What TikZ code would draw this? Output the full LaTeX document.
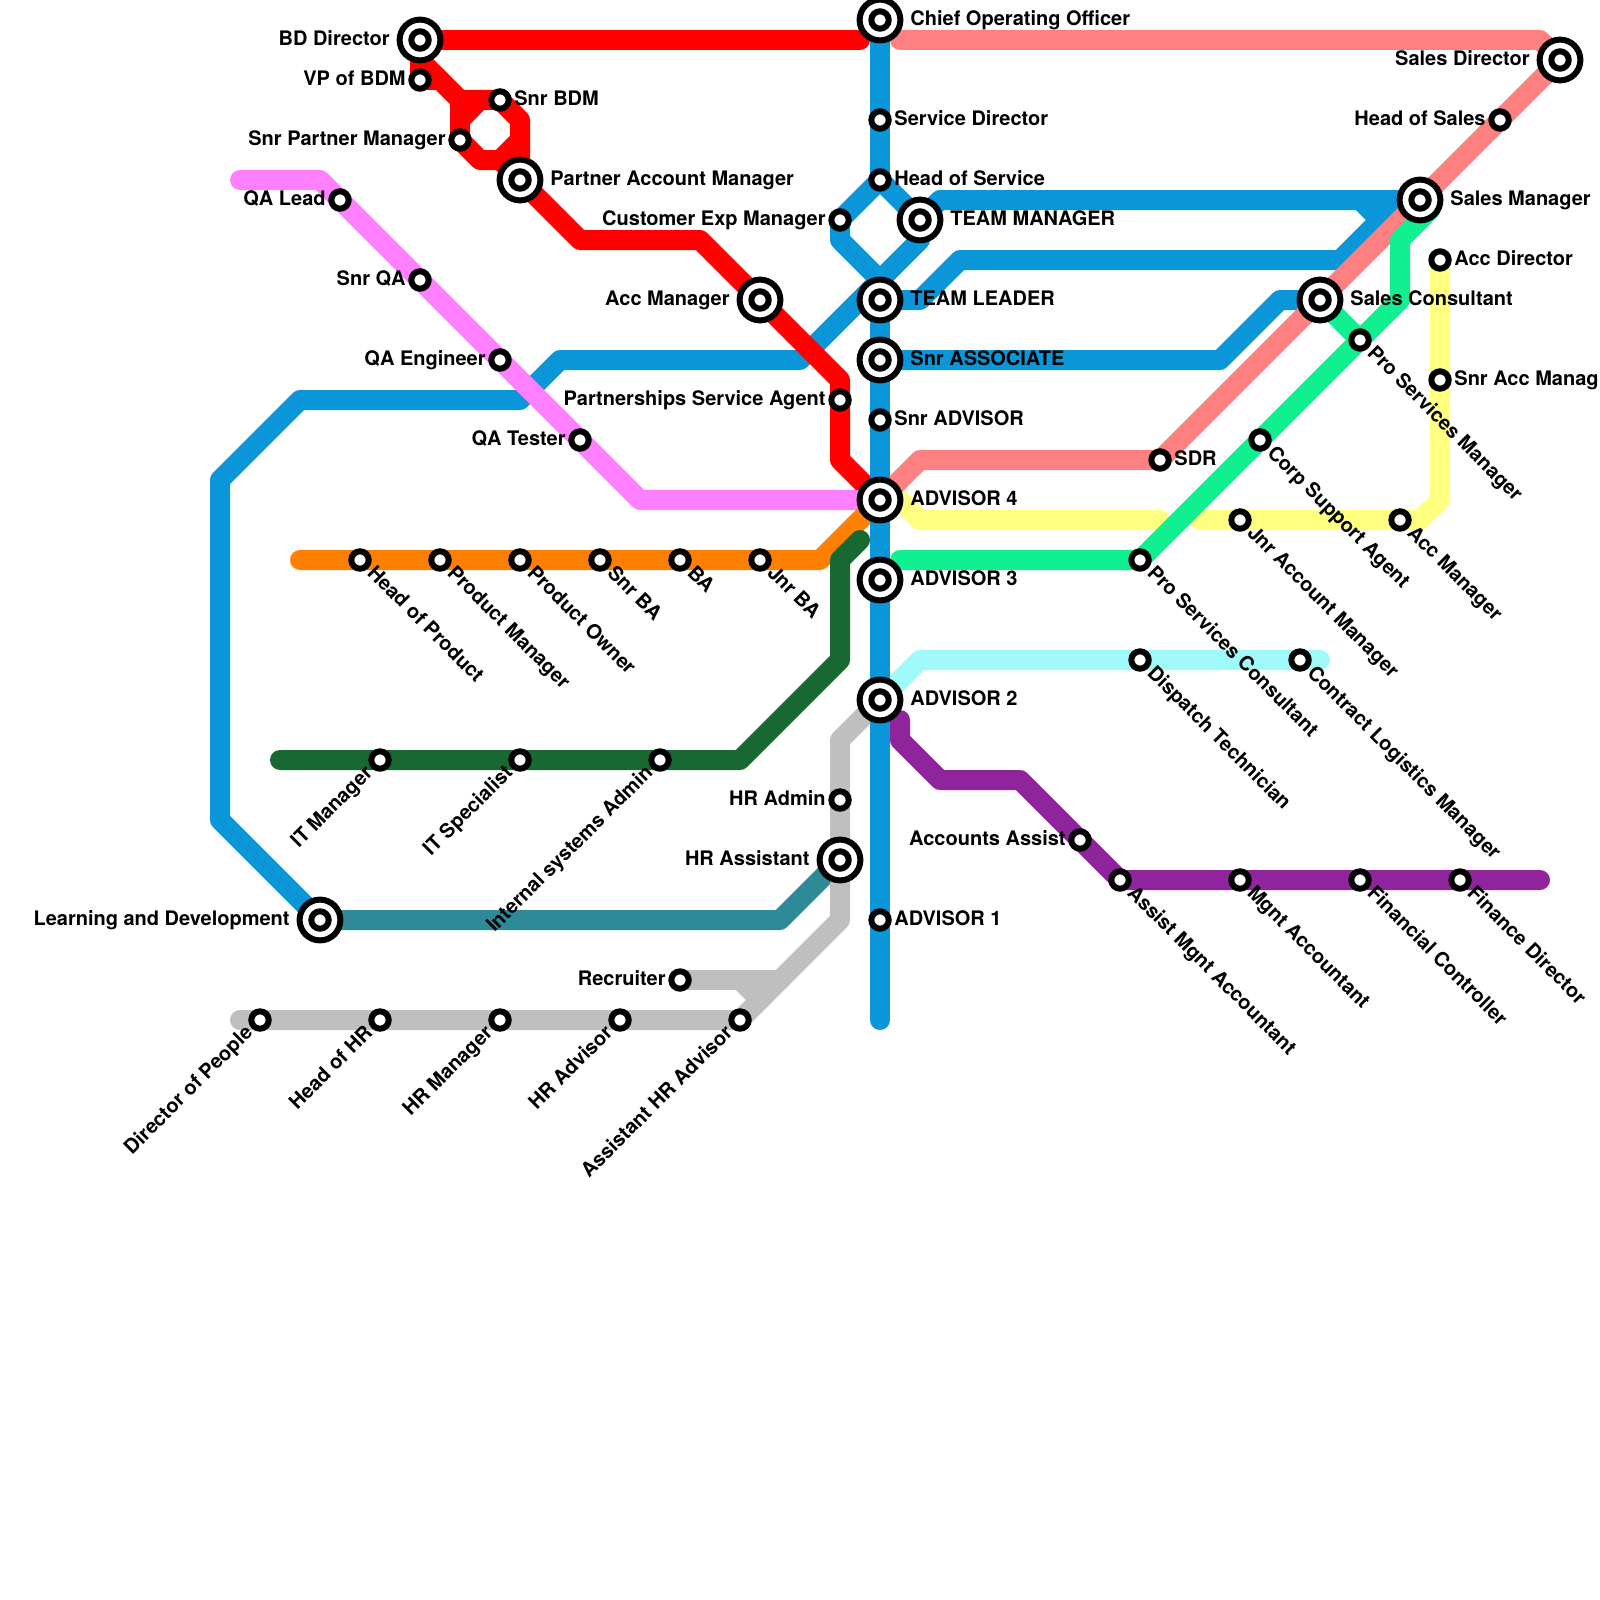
\documentclass[tikz,border=0pt]{standalone}
\usepackage{fontspec}
\setmainfont{TeX Gyre Heros}
\usepackage{xcolor}
\usetikzlibrary{backgrounds}
\definecolor{tubeblue}{HTML}{0A96D8}
\definecolor{tubered}{HTML}{FF0000}
\definecolor{tubesalmon}{HTML}{FF8080}
\definecolor{tubepink}{HTML}{FF80FF}
\definecolor{tubeorange}{HTML}{FF8000}
\definecolor{tubeforest}{HTML}{186832}
\definecolor{tubegreen}{HTML}{10F090}
\definecolor{tubeyellow}{HTML}{FFFF80}
\definecolor{tubecyan}{HTML}{A0FAFA}
\definecolor{tubepurple}{HTML}{90249C}
\definecolor{tubeteal}{HTML}{2E8A96}
\definecolor{tubegrey}{HTML}{BFBFBF}
\tikzset{
  tube/.style={line width=10pt, line cap=round, line join=round},
  stn/.style={circle, draw=black, fill=white, line width=3pt, inner sep=0pt, minimum size=8.7pt},
  hub/.style={stn, minimum size=20.4pt, path picture={\draw[line width=3pt] (path picture bounding box.center) circle (4.35pt);}},
  lab/.style={font=\bfseries\fontsize{10}{12}\selectfont, inner sep=0pt, text=black},
  rlab/.style={lab, anchor=base west, xshift=7pt, yshift=-2.7pt},
  llab/.style={lab, anchor=base east, xshift=-7pt, yshift=-2.7pt},
  hrlab/.style={lab, anchor=base west, xshift=15pt, yshift=-2.7pt},
  hllab/.style={lab, anchor=base east, xshift=-15pt, yshift=-2.7pt},
  dlab/.style={lab, rotate=-45, anchor=base west, xshift=7pt, yshift=-2.7pt},
  ulab/.style={lab, rotate=45, anchor=base east, xshift=-7pt, yshift=-2.7pt}
}
\begin{document}
\begin{tikzpicture}[x=0.5pt,y=-0.5pt]
  \useasboundingbox (0,0) rectangle (1600,1600);

  % centre line
  \node[hub] (coo) at (880,20) {};
  \node[stn] (svcdir) at (880,120) {};
  \node[stn] (hos) at (880,180) {};
  \node[stn] (custexp) at (840,220) {};
  \node[hub] (teammgr) at (920,220) {};
  \node[hub] (teamlead) at (880,300) {};
  \node[hub] (snrassoc) at (880,360) {};
  \node[stn] (snradv) at (880,420) {};
  \node[hub] (adv4) at (880,500) {};
  \node[hub] (adv3) at (880,580) {};
  \node[hub] (adv2) at (880,700) {};
  \node[stn] (adv1) at (880,920) {};
  \node[hrlab] (coot) at (coo) {Chief Operating Officer};
  \node[rlab] (svcdirt) at (svcdir) {Service Director};
  \node[rlab] (host) at (hos) {Head of Service};
  \node[llab] (custexpt) at (custexp) {Customer Exp Manager};
  \node[hrlab] (teammgrt) at (teammgr) {TEAM MANAGER};
  \node[hrlab] (teamleadt) at (teamlead) {TEAM LEADER};
  \node[hrlab] (snrassoct) at (snrassoc) {Snr ASSOCIATE};
  \node[rlab] (snradvt) at (snradv) {Snr ADVISOR};
  \node[hrlab] (adv4t) at (adv4) {ADVISOR 4};
  \node[hrlab] (adv3t) at (adv3) {ADVISOR 3};
  \node[hrlab] (adv2t) at (adv2) {ADVISOR 2};
  \node[rlab] (adv1t) at (adv1) {ADVISOR 1};

  % business development
  \node[hub] (bddir) at (420,40) {};
  \node[stn] (vpbdm) at (420,80) {};
  \node[stn] (snrbdm) at (500,100) {};
  \node[stn] (snrpart) at (460,140) {};
  \node[hub] (partacc) at (520,180) {};
  \node[hub] (accmgr) at (760,300) {};
  \node[stn] (partserv) at (840,400) {};
  \node[hllab] (bddirt) at (bddir) {BD Director};
  \node[llab] (vpbdmt) at (vpbdm) {VP of BDM};
  \node[rlab] (snrbdmt) at (snrbdm) {Snr BDM};
  \node[llab] (snrpartt) at (snrpart) {Snr Partner Manager};
  \node[hrlab] (partacct) at (partacc) {Partner Account Manager};
  \node[hllab] (accmgrt) at (accmgr) {Acc Manager};
  \node[llab] (partservt) at (partserv) {Partnerships Service Agent};

  % quality
  \node[stn] (qalead) at (340,200) {};
  \node[stn] (snrqa) at (420,280) {};
  \node[stn] (qaeng) at (500,360) {};
  \node[stn] (qatest) at (580,440) {};
  \node[llab] (qaleadt) at (qalead) {QA Lead};
  \node[llab] (snrqat) at (snrqa) {Snr QA};
  \node[llab] (qaengt) at (qaeng) {QA Engineer};
  \node[llab] (qatestt) at (qatest) {QA Tester};

  % product
  \node[stn] (headprod) at (360,560) {};
  \node[stn] (prodmgr) at (440,560) {};
  \node[stn] (prodown) at (520,560) {};
  \node[stn] (snrba) at (600,560) {};
  \node[stn] (ba) at (680,560) {};
  \node[stn] (jnrba) at (760,560) {};
  \node[dlab] (headprodt) at (headprod) {Head of Product};
  \node[dlab] (prodmgrt) at (prodmgr) {Product Manager};
  \node[dlab] (prodownt) at (prodown) {Product Owner};
  \node[dlab] (snrbat) at (snrba) {Snr BA};
  \node[dlab] (bat) at (ba) {BA};
  \node[dlab] (jnrbat) at (jnrba) {Jnr BA};

  % IT
  \node[stn] (itmgr) at (380,760) {};
  \node[stn] (itspec) at (520,760) {};
  \node[stn] (itadmin) at (660,760) {};
  \node[ulab] (itmgrt) at (itmgr) {IT Manager};
  \node[ulab] (itspect) at (itspec) {IT Specialist};
  \node[ulab] (itadmint) at (itadmin) {Internal systems Admin};

  % people
  \node[hub] (learn) at (320,920) {};
  \node[stn] (hradmin) at (840,800) {};
  \node[hub] (hrasst) at (840,860) {};
  \node[stn] (recruit) at (680,980) {};
  \node[stn] (dirpeople) at (260,1020) {};
  \node[stn] (headhr) at (380,1020) {};
  \node[stn] (hrmgr) at (500,1020) {};
  \node[stn] (hradv) at (620,1020) {};
  \node[stn] (asshr) at (740,1020) {};
  \node[hllab] (learnt) at (learn) {Learning and Development};
  \node[llab] (hradmint) at (hradmin) {HR Admin};
  \node[hllab] (hrasstt) at (hrasst) {HR Assistant};
  \node[llab] (recruitt) at (recruit) {Recruiter};
  \node[ulab] (dirpeoplet) at (dirpeople) {Director of People};
  \node[ulab] (headhrt) at (headhr) {Head of HR};
  \node[ulab] (hrmgrt) at (hrmgr) {HR Manager};
  \node[ulab] (hradvt) at (hradv) {HR Advisor};
  \node[ulab] (asshrt) at (asshr) {Assistant HR Advisor};

  % sales
  \node[hub] (salesdir) at (1560,60) {};
  \node[stn] (headsales) at (1500,120) {};
  \node[hub] (salesmgr) at (1420,200) {};
  \node[hub] (salescon) at (1320,300) {};
  \node[stn] (sdr) at (1160,460) {};
  \node[hllab] (salesdirt) at (salesdir) {Sales Director};
  \node[llab] (headsalest) at (headsales) {Head of Sales};
  \node[hrlab] (salesmgrt) at (salesmgr) {Sales Manager};
  \node[hrlab] (salescont) at (salescon) {Sales Consultant};
  \node[rlab] (sdrt) at (sdr) {SDR};

  % pro services
  \node[stn] (promgr) at (1360,340) {};
  \node[stn] (corpsup) at (1260,440) {};
  \node[stn] (procon) at (1140,560) {};
  \node[dlab] (promgrt) at (promgr) {Pro Services Manager};
  \node[dlab] (corpsupt) at (corpsup) {Corp Support Agent};
  \node[dlab] (procont) at (procon) {Pro Services Consultant};

  % accounts
  \node[stn] (accdir) at (1440,260) {};
  \node[stn] (snracc) at (1440,380) {};
  \node[stn] (accmgrb) at (1400,520) {};
  \node[stn] (jnracc) at (1240,520) {};
  \node[rlab] (accdirt) at (accdir) {Acc Director};
  \node[rlab] (snracct) at (snracc) {Snr Acc Manag};
  \node[dlab] (accmgrbt) at (accmgrb) {Acc Manager};
  \node[dlab] (jnracct) at (jnracc) {Jnr Account Manager};

  % logistics
  \node[stn] (dispatch) at (1140,660) {};
  \node[stn] (contract) at (1300,660) {};
  \node[dlab] (dispatcht) at (dispatch) {Dispatch Technician};
  \node[dlab] (contractt) at (contract) {Contract Logistics Manager};

  % finance
  \node[stn] (acasst) at (1080,840) {};
  \node[stn] (asmgnt) at (1120,880) {};
  \node[stn] (mgnt) at (1240,880) {};
  \node[stn] (fincon) at (1360,880) {};
  \node[stn] (findir) at (1460,880) {};
  \node[llab] (acasstt) at (acasst) {Accounts Assist};
  \node[dlab] (asmgntt) at (asmgnt) {Assist Mgnt Accountant};
  \node[dlab] (mgntt) at (mgnt) {Mgnt Accountant};
  \node[dlab] (fincont) at (fincon) {Financial Controller};
  \node[dlab] (findirt) at (findir) {Finance Director};

  % free ends
  \coordinate (redend) at (860,40);
  \coordinate (salmonend) at (900,40);
  \coordinate (pinkend) at (240,180);
  \coordinate (orangeend) at (300,560);
  \coordinate (forestend) at (280,760);
  \coordinate (foresttop) at (860,540);
  \coordinate (yellowa) at (1160,520);
  \coordinate (yellowb) at (1200,520);
  \coordinate (greenend) at (900,560);
  \coordinate (greentop) at (1430,210);
  \coordinate (cyanend) at (1320,660);
  \coordinate (greyend) at (240,1020);
  \coordinate (purpletop) at (900,720);
  \coordinate (purpleend) at (1540,880);
  \coordinate (blueend) at (880,1020);
  \coordinate (bluea) at (1360,200);
  \coordinate (blueb) at (1380,220);
  \coordinate (bluec) at (880,280);
  \coordinate (redc) at (460,120);
  \coordinate (redd) at (480,100);
  \coordinate (greya) at (740,980);
  \coordinate (greyb) at (760,1000);

  \begin{scope}[on background layer]
    % branches of the blue line
    \draw[tube,tubeblue] (learn.center) -- (220,820) -- (220,480) -- (300,400) -- (520,400) -- (560,360) -- (800,360) -- (920,240) -- (teammgr.center);
    \draw[tube,tubeblue] (hos.center) -- (custexp.center) -- (840,240) -- (bluec);
    \draw[tube,tubeblue] (hos.center) -- (teammgr.center) -- (940,200) -- (salesmgr.center);
    \draw[tube,tubeblue] (teamlead.center) -- (920,300) -- (960,260) -- (1340,260) -- (1400,200);
    \draw[tube,tubeblue] (bluea) -- (blueb);
    \draw[tube,tubeblue] (snrassoc.center) -- (1220,360) -- (1280,300) -- (salescon.center);

    \draw[tube,tubered] (bddir.center) -- (redend);
    \draw[tube,tubered] (bddir.center) -- (vpbdm.center) -- (440,80) -- (460,100) -- (snrbdm.center) -- (520,120) -- (partacc.center) -- (580,240) -- (700,240) -- (accmgr.center) -- (840,380) -- (840,460) -- (adv4.center);
    \draw[tube,tubered] (420,60) -- (440,80);
    \draw[tube,tubered] (460,100) -- (snrpart.center) -- (480,160) -- (500,160) -- (520,140);
    \draw[tube,tubered] (500,160) -- (partacc.center);
    \draw[tube,tubered] (redc) -- (redd);

    \draw[tube,tubeyellow] (adv4.center) -- (900,500) -- (920,520) -- (yellowa);
    \draw[tube,tubeyellow] (yellowb) -- (accmgrb.center) -- (1420,520) -- (1440,500) -- (accdir.center);
    \draw[tube,tubesalmon] (salmonend) -- (1540,40) -- (salesdir.center) -- (sdr.center) -- (920,460) -- (adv4.center);
    \draw[tube,tubepink] (pinkend) -- (320,180) -- (640,500) -- (adv4.center);
    \draw[tube,tubeorange] (orangeend) -- (820,560) -- (adv4.center);
    \draw[tube,tubeforest] (forestend) -- (740,760) -- (840,660) -- (840,560) -- (foresttop);
    \draw[tube,tubeteal] (learn.center) -- (780,920) -- (hrasst.center);
    \draw[tube,tubegrey] (adv2.center) -- (840,740) -- (840,920) -- (asshr.center) -- (greyend);
    \draw[tube,tubegrey] (recruit.center) -- (780,980);
    \draw[tube,tubegrey] (greya) -- (greyb);
    \draw[tube,tubecyan] (adv2.center) -- (920,660) -- (cyanend);
    \draw[tube,tubepurple] (purpletop) -- (900,740) -- (940,780) -- (1020,780) -- (asmgnt.center) -- (purpleend);
    \draw[tube,tubegreen] (greenend) -- (procon.center) -- (1400,300) -- (1400,240) -- (greentop);
    \draw[tube,tubegreen] (salescon.center) -- (promgr.center);

    % centre line on top
    \draw[tube,tubeblue] (coo.center) -- (hos.center);
    \draw[tube,tubeblue] (bluec) -- (blueend);
  \end{scope}
\end{tikzpicture}
\end{document}
